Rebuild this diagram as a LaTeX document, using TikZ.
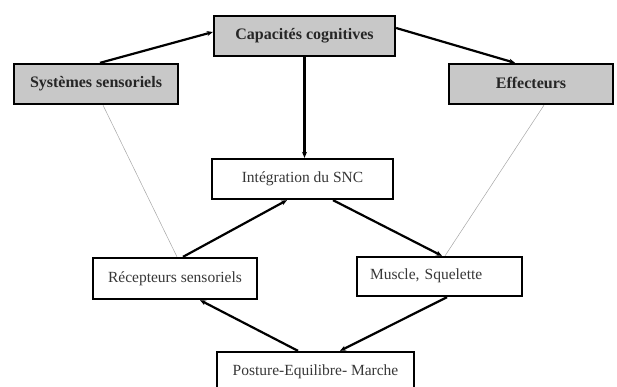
\documentclass[tikz,border=0pt]{standalone}
\usepackage{fontspec}
\setmainfont{Liberation Serif}
\usetikzlibrary{arrows.meta,calc}
\definecolor{boxgray}{RGB}{200,200,200}
\definecolor{txtgray}{RGB}{55,55,55}
\tikzset{
  graybox/.style={draw=black, line width=2.3pt, fill=boxgray, minimum width=#1, minimum height=40pt, inner sep=0pt, font=\fontsize{16}{18}\selectfont\bfseries, text=black!85},
  whitebox/.style={draw=black, line width=2.3pt, fill=white, minimum width=#1, minimum height=40pt, inner sep=0pt, font=\fontsize{15.5}{17}\selectfont, text=txtgray},
  arr/.style={line width=2.2pt, -{Stealth[length=6pt,width=5pt]}},
  thin/.style={draw=black!35, line width=0.5pt}
}
\begin{document}
\begin{tikzpicture}[x=1pt,y=-1pt]
\useasboundingbox (0,0) rectangle (617,387);
\clip (0,0) rectangle (617,387);
\node[graybox=181pt] (cap) at (304.5,36) {\raisebox{3pt}{Capacités cognitives}};
\node[graybox=164pt] (sys) at (96,84) {\raisebox{3pt}{Systèmes sensoriels}};
\node[graybox=164pt] (eff) at (531,84) {\raisebox{3pt}{Effecteurs}};
\node[whitebox=181pt] (int) at (302.5,179) {\raisebox{2pt}{Intégration du SNC}};
\node[whitebox=164pt, minimum height=41pt] (rec) at (175,278.5) {\raisebox{2pt}{Récepteurs sensoriels}};
\node[whitebox=165pt, minimum height=39pt, text width=139pt, align=left, inner xsep=13pt] (mus) at (439.5,276.5) {\raisebox{4pt}{Muscle, Squelette}};
\node[whitebox=197pt] (pos) at (315.5,372) {\raisebox{4pt}{Posture-Equilibre- Marche}};
% thin gray links
\draw[thin] ([xshift=7pt]sys.south) -- ([xshift=2pt]rec.north);
\draw[thin] ([xshift=13pt]eff.south) -- ([xshift=5.5pt]mus.north);
% arrows
\draw[arr] ([xshift=4pt]sys.north) -- ([yshift=4pt]cap.west);
\draw[arr] ([yshift=8pt]cap.east) -- ([xshift=-16pt]eff.north);
\draw[arr] (cap.south) -- (cap.south |- int.north);
\draw[arr] ([xshift=8pt]rec.north) -- ([xshift=-15.5pt]int.south);
\draw[arr] ([xshift=30.5pt]int.south) -- ([xshift=2.5pt]mus.north);
\draw[arr] ([xshift=-17.5pt]pos.north) -- ([xshift=25pt]rec.south);
\draw[arr] ([xshift=7.5pt]mus.south) -- ([xshift=24.5pt]pos.north);
\end{tikzpicture}
\end{document}
